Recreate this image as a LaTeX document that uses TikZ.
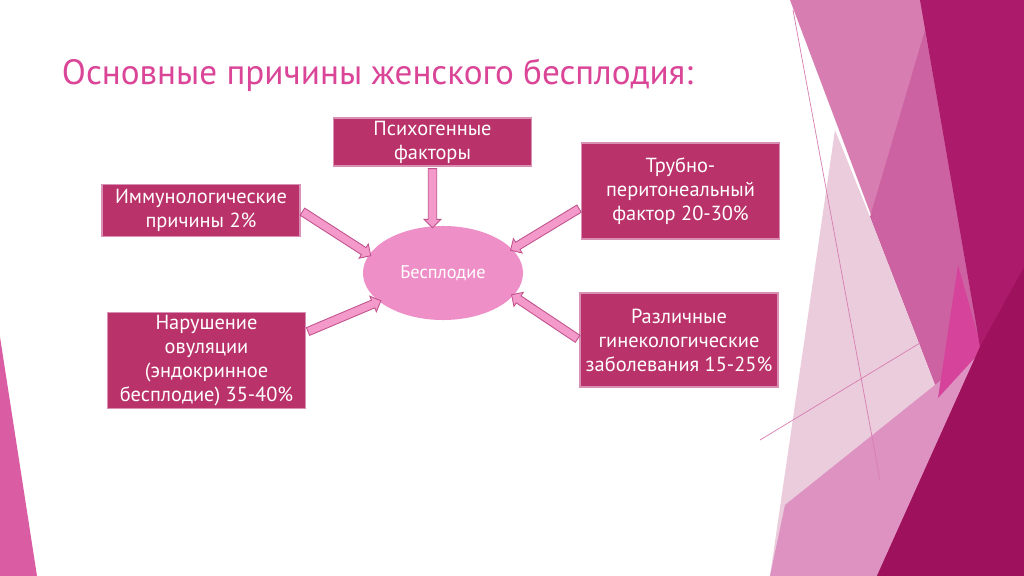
\documentclass[tikz,border=0pt]{standalone}
\usepackage{fontspec}
\setmainfont{PT Sans}
\usepackage{xcolor}
\usepackage{tikz}
\usetikzlibrary{arrows.meta, positioning}
\usetikzlibrary{shapes}
\usetikzlibrary{calc}
\definecolor{titlepink}{HTML}{DA4597}
\definecolor{boxfill}{HTML}{B93269}
\definecolor{boxline}{HTML}{D890B4}
\definecolor{ellfill}{HTML}{EF8FC8}
\definecolor{arrowfill}{HTML}{F49ACB}
\definecolor{arrowline}{HTML}{C0508A}
\definecolor{facetdark}{HTML}{AC1A6B}
\definecolor{facetdeep}{HTML}{9E125D}
\definecolor{facetmid}{HTML}{D77DB1}
\definecolor{facetrose}{HTML}{CC62A1}
\definecolor{facethot}{HTML}{D5449A}
\definecolor{facetlight}{HTML}{EBCCDC}
\definecolor{facetsoft}{HTML}{DE92C2}
\definecolor{cornerpink}{HTML}{DA5CA3}

\newcommand{\blockarrow}[2]{%
  \path let \p1=($(#2)-(#1)$), \n1={atan2(\y1,\x1)}, \n2={veclen(\x1,\y1)} in
    node[fatarrow, rotate=\n1, minimum height=\n2] at ($(#1)!0.5!(#2)$) {};}

\begin{document}
\begin{tikzpicture}[x=0.025cm, y=-0.025cm,
    cause/.style={rectangle, draw=boxline, line width=0.8pt, fill=boxfill,
        text=white, minimum width=4.95cm, align=center, inner sep=2pt,
        font=\fontsize{14.5}{17}\selectfont},
    fatarrow/.style={single arrow, draw=arrowline, fill=arrowfill, line width=0.6pt,
        inner sep=2.7pt, single arrow head extend=3pt}]
    \useasboundingbox (0,0) rectangle (1024,576);
    \fill[white] (0,0) rectangle (1024,576);
    % facets
    \fill[facetmid] (790,0) -- (925,0) -- (980,347) -- (937,390) -- cycle;
    \fill[facetrose] (870,217) -- (925,30) -- (980,347) -- (937,390) -- cycle;
    \fill[facetlight] (835,130) -- (870,217) -- (937,390) -- (880,576) -- (770,576) -- cycle;
    \fill[facetsoft] (770,576) -- (785,505) -- (985,345) -- (877,576) -- cycle;
    \fill[facethot] (958,265) -- (982,350) -- (938,398) -- cycle;
    \fill[facetdark] (920,0) -- (1024,0) -- (1024,576) -- (877,576) -- (980,347) -- cycle;
    \fill[facetdeep] (980,347) -- (1024,267) -- (1024,576) -- (877,576) -- cycle;
    \draw[facetmid, line width=0.5pt] (793,10) -- (880,480);
    \draw[facetmid, line width=0.5pt] (760,440) -- (920,343);
    \fill[cornerpink] (0,337) -- (37,576) -- (0,576) -- cycle;

    \node[anchor=base west, text=titlepink, font=\fontsize{25}{30}\selectfont] (title) at (57,85)
        {Основные причины женского бесплодия:};

    \node[cause, minimum height=1.05cm] (psy) at (432.5,142) {Психогенные\\факторы};
    \node[cause, minimum height=1.28cm] (imm) at (201,210.5) {Иммунологические\\причины 2\%};
    \node[cause, minimum height=2.4cm] (tru) at (680.5,191) {Трубно-\\перитонеальный\\фактор 20-30\%};
    \node[cause, minimum height=2.38cm] (nar) at (206.5,360.5) {Нарушение\\овуляции\\(эндокринное\\бесплодие) 35-40\%};
    \node[cause, minimum height=2.35cm] (raz) at (679,340) {Различные\\гинекологические\\заболевания 15-25\%};
    \node[ellipse, fill=ellfill, text=white, minimum width=4cm, minimum height=2.35cm,
        font=\fontsize{13}{15}\selectfont] (bes) at (443,273) {Бесплодие};

    \blockarrow{psy.south}{psy.south |- bes.north}
    \blockarrow{imm.east}{bes.166}
    \blockarrow{$(tru.south west)!0.33!(tru.north west)$}{bes.19}
    \blockarrow{$(nar.north east)!0.21!(nar.south east)$}{bes.204}
    \blockarrow{raz.west}{bes.342}
\end{tikzpicture}
\end{document}
